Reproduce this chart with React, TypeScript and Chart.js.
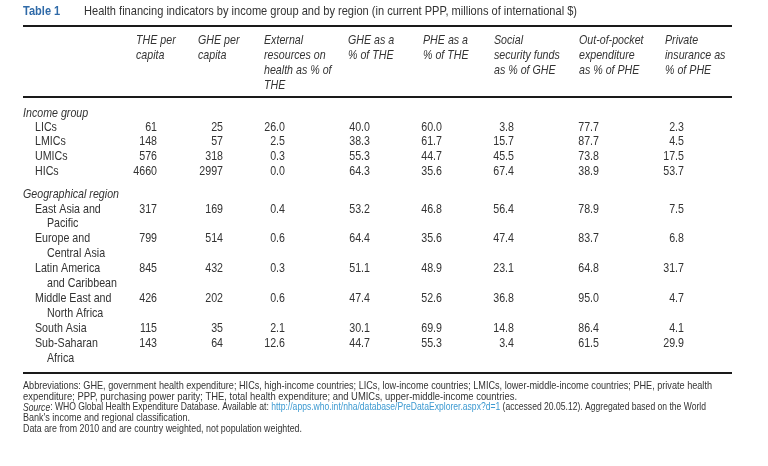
import React, { useEffect, useRef } from "react";
import { Chart, registerables } from "chart.js";

Chart.register(...registerables);

// ---------- data ----------
const TABLE_LABEL = "Table 1";
const TITLE =
  "Health financing indicators by income group and by region (in current PPP, millions of international $)";

const HEADERS: string[][] = [
  ["THE per", "capita"],
  ["GHE per", "capita"],
  ["External", "resources on", "health as % of", "THE"],
  ["GHE as a", "% of THE"],
  ["PHE as a", "% of THE"],
  ["Social", "security funds", "as % of GHE"],
  ["Out-of-pocket", "expenditure", "as % of PHE"],
  ["Private", "insurance as", "% of PHE"],
];

const INCOME_TITLE = "Income group";
const INCOME_ROWS: string[][] = [["LICs"], ["LMICs"], ["UMICs"], ["HICs"]];
const REGION_TITLE = "Geographical region";
const REGION_ROWS: string[][] = [
  ["East Asia and", "Pacific"],
  ["Europe and", "Central Asia"],
  ["Latin America", "and Caribbean"],
  ["Middle East and", "North Africa"],
  ["South Asia"],
  ["Sub-Saharan", "Africa"],
];

const THE_PER_CAPITA = [61, 148, 576, 4660, 317, 799, 845, 426, 115, 143];
const GHE_PER_CAPITA = [25, 57, 318, 2997, 169, 514, 432, 202, 35, 64];
const EXTERNAL_PCT_THE = [26.0, 2.5, 0.3, 0.0, 0.4, 0.6, 0.3, 0.6, 2.1, 12.6];
const GHE_PCT_THE = [40.0, 38.3, 55.3, 64.3, 53.2, 64.4, 51.1, 47.4, 30.1, 44.7];
const PHE_PCT_THE = [60.0, 61.7, 44.7, 35.6, 46.8, 35.6, 48.9, 52.6, 69.9, 55.3];
const SSF_PCT_GHE = [3.8, 15.7, 45.5, 67.4, 56.4, 47.4, 23.1, 36.8, 14.8, 3.4];
const OOP_PCT_PHE = [77.7, 87.7, 73.8, 38.9, 78.9, 83.7, 64.8, 95.0, 86.4, 61.5];
const PRIV_INS_PCT_PHE = [2.3, 4.5, 17.5, 53.7, 7.5, 6.8, 31.7, 4.7, 4.1, 29.9];
const COLUMN_DECIMALS = [0, 0, 1, 1, 1, 1, 1, 1];

const FOOTNOTE_1 =
  "Abbreviations: GHE, government health expenditure; HICs, high-income countries; LICs, low-income countries; LMICs, lower-middle-income countries; PHE, private health";
const FOOTNOTE_2 =
  "expenditure; PPP, purchasing power parity; THE, total health expenditure; and UMICs, upper-middle-income countries.";
const SOURCE_LABEL = "Source";
const SOURCE_TEXT = ": WHO Global Health Expenditure Database. Available at: ";
const SOURCE_URL = "http://apps.who.int/nha/database/PreDataExplorer.aspx?d=1";
const SOURCE_TAIL = " (accessed 20.05.12). Aggregated based on the World";
const FOOTNOTE_4 = "Bank's income and regional classification.";
const FOOTNOTE_5 = "Data are from 2010 and are country weighted, not population weighted.";

// ---------- layout (reference pixel units on the linear scales) ----------
const W = 768;
const H = 466;
const LEFT = 23;
const RIGHT = 732;
const TITLE_Y = 11;
const TITLE_TEXT_X = 84;
const TITLE_TEXT_END = 577;
const RULE_YS = [26, 97, 373];
const HEADER_X = [136, 198, 264, 348, 423, 494, 579, 665];
const VALUE_RIGHT_X = [157, 223, 285, 370, 442, 514, 599, 684];
const HEADER_Y0 = 40;
const HEADER_STEP = 15;
const INCOME_TITLE_Y = 113;
const INCOME_Y0 = 127;
const REGION_TITLE_Y = 194;
const REGION_Y0 = 209;
const LINE_STEP = 14.9;
const LABEL_X = 35;
const LABEL_CONT_X = 47;
const FOOT_Y0 = 386;
const FOOT_STEP = 10.8;
const FOOT_END_X = [712, 517, 706, 190, 302];

const FONT_FAMILY = "'Liberation Sans', Arial, sans-serif";
const NARROW = 0.82;
const TEXT_COLOR = "#333333";
const BLUE = "#2f6aa8";
const LINK = "#3d9ad1";

function rowPositions() {
  const pos: { y: number; lines: string[] }[] = [];
  INCOME_ROWS.forEach((lines, i) => pos.push({ y: INCOME_Y0 + i * LINE_STEP, lines }));
  let line = 0;
  REGION_ROWS.forEach((lines) => {
    pos.push({ y: REGION_Y0 + line * LINE_STEP, lines });
    line += lines.length;
  });
  return pos;
}

function drawText(
  ctx: CanvasRenderingContext2D,
  text: string,
  x: number,
  y: number,
  font: string,
  color: string,
  align: CanvasTextAlign = "left",
  sx = NARROW
) {
  ctx.save();
  ctx.font = font;
  ctx.fillStyle = color;
  ctx.textAlign = align;
  ctx.textBaseline = "middle";
  ctx.translate(x, y);
  ctx.scale(sx, 1);
  ctx.fillText(text, 0, 0);
  ctx.restore();
}

function textWidth(ctx: CanvasRenderingContext2D, text: string, font: string) {
  ctx.save();
  ctx.font = font;
  const w = ctx.measureText(text).width;
  ctx.restore();
  return w;
}

export default function App() {
  const ref = useRef<HTMLCanvasElement | null>(null);

  useEffect(() => {
    document.body.style.margin = "0";
    const canvas = ref.current;
    if (!canvas) return;
    const rows = rowPositions();
    const columns = [
      THE_PER_CAPITA,
      GHE_PER_CAPITA,
      EXTERNAL_PCT_THE,
      GHE_PCT_THE,
      PHE_PCT_THE,
      SSF_PCT_GHE,
      OOP_PCT_PHE,
      PRIV_INS_PCT_PHE,
    ];

    const tablePlugin = {
      id: "tablePlugin",
      afterDatasetsDraw(chart: any) {
        const ctx: CanvasRenderingContext2D = chart.ctx;
        const xs = chart.scales.x;
        const ys = chart.scales.y;
        const px = (v: number) => xs.getPixelForValue(v);
        const py = (v: number) => ys.getPixelForValue(v);
        const body = `13px ${FONT_FAMILY}`;
        const ital = `italic 13px ${FONT_FAMILY}`;

        // title
        drawText(ctx, TABLE_LABEL, px(LEFT), py(TITLE_Y), `bold 13px ${FONT_FAMILY}`, BLUE, "left", 0.85);
        const tw = textWidth(ctx, TITLE, body);
        drawText(ctx, TITLE, px(TITLE_TEXT_X), py(TITLE_Y), body, TEXT_COLOR, "left",
          (px(TITLE_TEXT_END) - px(TITLE_TEXT_X)) / tw);

        // rules
        ctx.save();
        ctx.strokeStyle = "#1a1a1a";
        ctx.lineWidth = 2;
        RULE_YS.forEach((ry) => {
          ctx.beginPath();
          ctx.moveTo(px(LEFT), py(ry));
          ctx.lineTo(px(RIGHT), py(ry));
          ctx.stroke();
        });
        ctx.restore();

        // headers
        HEADERS.forEach((lines, c) => {
          lines.forEach((t, k) => {
            drawText(ctx, t, px(HEADER_X[c]), py(HEADER_Y0 + k * HEADER_STEP), ital, TEXT_COLOR);
          });
        });

        // group titles
        drawText(ctx, INCOME_TITLE, px(LEFT), py(INCOME_TITLE_Y), ital, TEXT_COLOR);
        drawText(ctx, REGION_TITLE, px(LEFT), py(REGION_TITLE_Y), ital, TEXT_COLOR);

        // row labels
        rows.forEach((r) => {
          r.lines.forEach((t, k) => {
            drawText(ctx, t, px(k === 0 ? LABEL_X : LABEL_CONT_X), py(r.y + k * LINE_STEP), body, TEXT_COLOR);
          });
        });

        // cell values at dataset element positions
        chart.data.datasets.forEach((ds: any, c: number) => {
          const meta = chart.getDatasetMeta(c);
          meta.data.forEach((el: any, i: number) => {
            const v = columns[c][i];
            drawText(ctx, v.toFixed(COLUMN_DECIMALS[c]), el.x, el.y, body, TEXT_COLOR, "right");
          });
        });

        // footnotes (each line fitted to its measured extent)
        const fn = `10.5px ${FONT_FAMILY}`;
        const fni = `italic 10.5px ${FONT_FAMILY}`;
        const fitLine = (segs: [string, string, string][], k: number) => {
          const total = segs.reduce((s, [t, f]) => s + textWidth(ctx, t, f), 0);
          const sx = (px(FOOT_END_X[k]) - px(LEFT)) / total;
          let x = px(LEFT);
          const y = py(FOOT_Y0 + k * FOOT_STEP);
          segs.forEach(([t, f, col]) => {
            drawText(ctx, t, x, y, f, col, "left", sx);
            x += textWidth(ctx, t, f) * sx;
          });
        };
        fitLine([[FOOTNOTE_1, fn, TEXT_COLOR]], 0);
        fitLine([[FOOTNOTE_2, fn, TEXT_COLOR]], 1);
        fitLine(
          [
            [SOURCE_LABEL, fni, TEXT_COLOR],
            [SOURCE_TEXT, fn, TEXT_COLOR],
            [SOURCE_URL, fn, LINK],
            [SOURCE_TAIL, fn, TEXT_COLOR],
          ],
          2
        );
        fitLine([[FOOTNOTE_4, fn, TEXT_COLOR]], 3);
        fitLine([[FOOTNOTE_5, fn, TEXT_COLOR]], 4);
      },
    };

    const chart = new Chart(canvas, {
      type: "scatter",
      data: {
        datasets: columns.map((vals, c) => ({
          label: HEADERS[c].join(" "),
          data: vals.map((_, i) => ({ x: VALUE_RIGHT_X[c], y: rows[i].y })),
          pointRadius: 0,
          pointHoverRadius: 0,
        })),
      },
      options: {
        responsive: false,
        maintainAspectRatio: false,
        animation: false,
        events: [],
        layout: { padding: 0 },
        plugins: {
          legend: { display: false },
          tooltip: { enabled: false },
          title: { display: false },
        },
        scales: {
          x: { type: "linear", min: 0, max: W, display: false },
          y: { type: "linear", min: 0, max: H, reverse: true, display: false },
        },
      },
      plugins: [tablePlugin],
    });
    return () => chart.destroy();
  }, []);

  return (
    <div style={{ width: W, height: H, background: "#fff" }}>
      <canvas ref={ref} width={W} height={H} style={{ display: "block", width: W, height: H }} />
    </div>
  );
}
